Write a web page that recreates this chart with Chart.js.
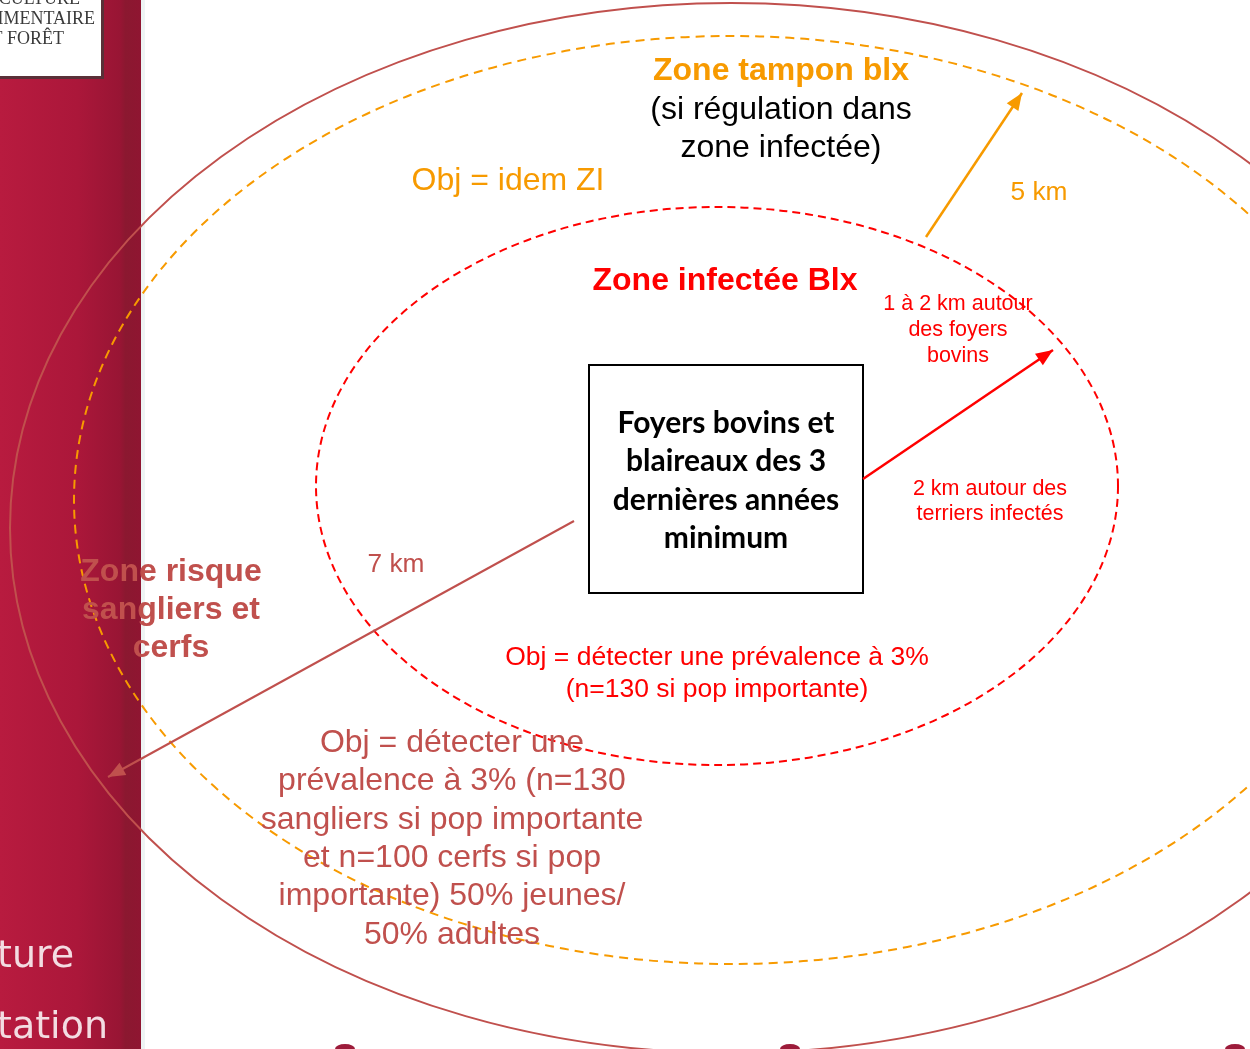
<!DOCTYPE html>
<html><head><meta charset="utf-8">
<script src="https://cdn.jsdelivr.net/npm/chart.js@4"></script>
<style>html,body{margin:0;padding:0;background:#fff;overflow:hidden}#wrap{width:1250px;height:1049px}</style>
</head><body><div id="wrap"><canvas id="c" width="1250" height="1049"></canvas></div>
<script>
// Zones (ellipses): centre and radii in diagram units
const zoneNames = ['Zone risque sangliers et cerfs', 'Zone tampon blx', 'Zone infectée Blx'];
const zoneCX = [731, 731, 717];
const zoneCY = [528, 500, 486];
const zoneRX = [721, 657, 401];
const zoneRY = [525, 464, 279];
const zoneColors = ['#c0504d', '#f79a00', '#ff0000'];
const zoneDash = [[], [9, 6], [8, 5]];

// Distance arrows (start -> end)
const arrowLabels = ['5 km', '1 à 2 km', '7 km'];
const arrowX0 = [926, 863, 574];
const arrowY0 = [237, 479, 521];
const arrowX1 = [1022, 1053, 108];
const arrowY1 = [93, 350, 777];
const arrowColors = ['#f79a00', '#ff0000', '#c0504d'];

// Central box
const boxX = [589, 863];
const boxY = [365, 593];
const boxLines = ['Foyers bovins et', 'blaireaux des 3', 'dernières années', 'minimum'];

// Text blocks
const textLines = [
  ['Zone tampon blx'],
  ['(si régulation dans', 'zone infectée)'],
  ['Obj = idem ZI'],
  ['Zone infectée Blx'],
  ['1 à 2 km autour', 'des foyers', 'bovins'],
  ['2 km autour des', 'terriers infectés'],
  ['5 km'],
  ['7 km'],
  ['Obj = détecter une prévalence à 3%', '(n=130 si pop importante)'],
  ['Zone risque', 'sangliers et', 'cerfs'],
  ['Obj = détecter une', 'prévalence à 3% (n=130', 'sangliers si pop importante', 'et n=100 cerfs si pop', 'importante) 50% jeunes/', '50% adultes']
];
const textX = [781, 781, 508, 725, 958, 990, 1039, 396, 717, 171, 452];
const textY = [71, 110, 181, 281, 304, 489, 193, 565, 658, 572, 743];
const textGap = [0, 38, 0, 0, 26, 25, 0, 0, 32, 38, 38.4];
const textSize = [32, 32, 32, 32, 21.5, 21.5, 26.3, 26.3, 26.5, 32, 32];
const textBold = [true, false, false, true, false, false, false, false, false, true, false];
const textColor = ['#f79a00', '#000000', '#f79a00', '#ff0000', '#ff0000', '#ff0000', '#f79a00', '#c0504d', '#ff0000', '#c0504d', '#c0504d'];

const SANS = '"Liberation Sans", Arial, sans-serif';

const backgroundPlugin = {
  id: 'background',
  beforeDraw(chart) {
    const ctx = chart.ctx;
    const {x, y} = chart.scales;
    ctx.save();
    ctx.fillStyle = '#ffffff';
    ctx.fillRect(0, 0, chart.width, chart.height);
    // left slide band
    const g = ctx.createLinearGradient(0, 0, 141, 0);
    g.addColorStop(0, '#b81b3f');
    g.addColorStop(0.55, '#ab173a');
    g.addColorStop(0.85, '#981534');
    g.addColorStop(0.89, '#8b1830');
    g.addColorStop(1, '#8f1531');
    ctx.fillStyle = g;
    ctx.fillRect(0, 0, 141, chart.height);
    ctx.fillStyle = '#eef4f4';
    ctx.fillRect(141, 0, 4, chart.height);
    // logo box
    ctx.fillStyle = '#5a3038';
    ctx.fillRect(-2, -2, 106, 81);
    ctx.fillStyle = '#ffffff';
    ctx.fillRect(-2, -2, 103, 78);
    ctx.fillStyle = '#3a3a3a';
    ctx.font = '18px "Liberation Serif", "DejaVu Serif", serif';
    ctx.textAlign = 'right';
    ctx.textBaseline = 'middle';
    ctx.fillText('AGRICULTURE', 80, -1);
    ctx.fillText('ALIMENTAIRE', 95, 19);
    ctx.fillText('ET FORÊT', 64, 39);
    // slide footer words
    ctx.fillStyle = '#f3dce2';
    ctx.font = '38px "DejaVu Sans", sans-serif';
    ctx.textAlign = 'left';
    ctx.fillText('ture', -3, 957);
    ctx.fillText('tation', -3, 1028);
    // small footer marks
    ctx.fillStyle = '#9c1b3a';
    [[345, 1049], [790, 1049], [1235, 1049]].forEach(p => {
      ctx.beginPath();
      ctx.ellipse(p[0], p[1], 10, 5, 0, Math.PI, 2 * Math.PI);
      ctx.fill();
    });
    // zones
    for (let i = 0; i < zoneCX.length; i++) {
      const cx = x.getPixelForValue(zoneCX[i]);
      const cy = y.getPixelForValue(zoneCY[i]);
      const rx = Math.abs(x.getPixelForValue(zoneCX[i] + zoneRX[i]) - cx);
      const ry = Math.abs(y.getPixelForValue(zoneCY[i] + zoneRY[i]) - cy);
      ctx.beginPath();
      ctx.setLineDash(zoneDash[i]);
      ctx.strokeStyle = zoneColors[i];
      ctx.lineWidth = 2;
      ctx.ellipse(cx, cy, rx, ry, 0, 0, 2 * Math.PI);
      ctx.stroke();
    }
    ctx.setLineDash([]);
    // central box
    const bx0 = x.getPixelForValue(boxX[0]), bx1 = x.getPixelForValue(boxX[1]);
    const by0 = y.getPixelForValue(boxY[0]), by1 = y.getPixelForValue(boxY[1]);
    ctx.fillStyle = '#ffffff';
    ctx.fillRect(bx0, by0, bx1 - bx0, by1 - by0);
    ctx.strokeStyle = '#000000';
    ctx.lineWidth = 2;
    ctx.strokeRect(bx0, by0, bx1 - bx0, by1 - by0);
    ctx.fillStyle = '#000000';
    ctx.font = 'bold 30px Lato, "Open Sans", sans-serif';
    ctx.textAlign = 'center';
    ctx.textBaseline = 'middle';
    const bcx = (bx0 + bx1) / 2;
    boxLines.forEach((l, k) => ctx.fillText(l, bcx, by0 + 58 + k * 38.5));
    ctx.restore();
  }
};

const overlayPlugin = {
  id: 'overlay',
  afterDatasetsDraw(chart) {
    const ctx = chart.ctx;
    const {x, y} = chart.scales;
    ctx.save();
    // arrowheads
    for (let i = 0; i < arrowX0.length; i++) {
      const ax0 = x.getPixelForValue(arrowX0[i]), ay0 = y.getPixelForValue(arrowY0[i]);
      const ax1 = x.getPixelForValue(arrowX1[i]), ay1 = y.getPixelForValue(arrowY1[i]);
      const ang = Math.atan2(ay1 - ay0, ax1 - ax0);
      const L = 17, W = 7;
      ctx.fillStyle = arrowColors[i];
      ctx.beginPath();
      ctx.moveTo(ax1, ay1);
      ctx.lineTo(ax1 - L * Math.cos(ang) + W * Math.sin(ang), ay1 - L * Math.sin(ang) - W * Math.cos(ang));
      ctx.lineTo(ax1 - L * Math.cos(ang) - W * Math.sin(ang), ay1 - L * Math.sin(ang) + W * Math.cos(ang));
      ctx.closePath();
      ctx.fill();
    }
    // texts
    ctx.textAlign = 'center';
    ctx.textBaseline = 'middle';
    for (let i = 0; i < textLines.length; i++) {
      ctx.fillStyle = textColor[i];
      ctx.font = (textBold[i] ? 'bold ' : '') + textSize[i] + 'px ' + SANS;
      const tx = x.getPixelForValue(textX[i]);
      textLines[i].forEach((l, k) => {
        const ty = y.getPixelForValue(textY[i] + k * textGap[i]);
        ctx.fillText(l, tx, ty);
      });
    }
    ctx.restore();
  }
};

const datasets = arrowLabels.map((lab, i) => ({
  label: lab,
  data: [{x: arrowX0[i], y: arrowY0[i]}, {x: arrowX1[i], y: arrowY1[i]}],
  showLine: true,
  borderColor: arrowColors[i],
  borderWidth: i === 2 ? 2 : 2.5,
  pointRadius: 0,
  fill: false
}));

new Chart(document.getElementById('c'), {
  type: 'scatter',
  data: {datasets},
  options: {
    responsive: false,
    animation: false,
    layout: {padding: 0},
    scales: {
      x: {type: 'linear', min: 0, max: 1250, display: false},
      y: {type: 'linear', min: 0, max: 1049, reverse: true, display: false}
    },
    plugins: {legend: {display: false}, tooltip: {enabled: false}}
  },
  plugins: [backgroundPlugin, overlayPlugin]
});
</script>
</body></html>
